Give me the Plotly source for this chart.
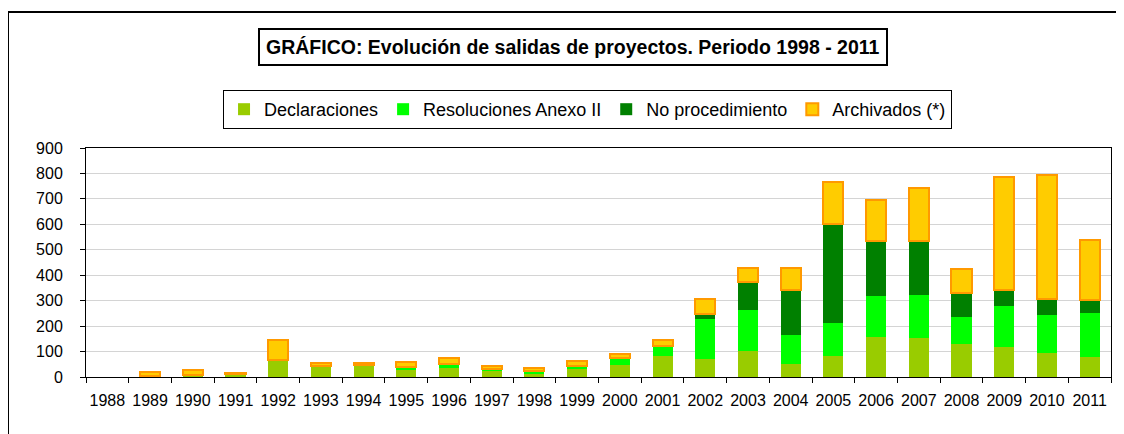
import plotly.graph_objects as go

years = [str(y) for y in range(1988, 2012)]
declaraciones = [0, 5, 9, 10, 68, 42, 47, 26, 34, 24, 13, 32, 49, 82, 70, 103, 53, 84, 159, 153, 130, 117, 93, 80]
resoluciones = [0, 0, 0, 0, 0, 0, 0, 12, 19, 8, 9, 13, 26, 38, 159, 160, 114, 127, 158, 168, 107, 163, 152, 171]
no_procedimiento = [0, 0, 0, 0, 0, 0, 0, 0, 0, 0, 0, 0, 0, 2, 20, 112, 174, 389, 219, 215, 92, 63, 63, 52]
archivados = [None, 15, 20, 7, 78, 13, 8, 22, 22, 12, 13, 17, 17, 24, 58, 53, 89, 165, 158, 205, 97, 445, 487, 235]
y_ticks = [0, 100, 200, 300, 400, 500, 600, 700, 800, 900]

FONT = "Liberation Sans, Arial, sans-serif"

fig = go.Figure()
fig.add_trace(go.Bar(x=years, y=declaraciones, name="Declaraciones",
                     marker=dict(color="#99CC00", line=dict(width=0))))
fig.add_trace(go.Bar(x=years, y=resoluciones, name="Resoluciones Anexo II",
                     marker=dict(color="#00FF00", line=dict(width=0))))
fig.add_trace(go.Bar(x=years, y=no_procedimiento, name="No procedimiento",
                     marker=dict(color="#008000", line=dict(width=0))))
fig.add_trace(go.Bar(x=years, y=archivados, name="Archivados (*)",
                     marker=dict(color="#FFCC00", line=dict(color="#FF9900", width=2))))

fig.update_layout(
    barmode="stack",
    bargap=0.53,
    width=1116, height=426,
    margin=dict(l=78, r=13, t=140, b=57, autoexpand=False),
    paper_bgcolor="white", plot_bgcolor="white",
    font=dict(family=FONT, color="black", size=16),
    legend=dict(orientation="h", x=0.4893, xanchor="center", y=1.2533, yanchor="top",
                bordercolor="black", borderwidth=1, bgcolor="white",
                font=dict(size=18, family=FONT, color="black"),
                traceorder="normal", itemwidth=30),
    xaxis=dict(type="category", showline=True, linecolor="black", linewidth=1, mirror=True,
               ticks="outside", ticklen=5, tickcolor="black", tickson="boundaries",
               tickangle=0, tickfont=dict(size=16), ticklabelstandoff=9, showgrid=False),
    yaxis=dict(range=[0, 900], tickvals=y_ticks, showline=True, linecolor="black", linewidth=1,
               mirror=True, ticks="outside", ticklen=5, tickcolor="black",
               showgrid=True, gridcolor="#d4d4d4", gridwidth=1,
               tickfont=dict(size=16), ticklabelstandoff=14, zeroline=False),
    shapes=[dict(type="rect", xref="paper", yref="paper",
                 x0=-0.0761, x1=1.2, y0=-0.6, y1=1.594,
                 line=dict(color="black", width=2), fillcolor="rgba(0,0,0,0)", layer="above")],
    annotations=[dict(text="<b>GRÁFICO: Evolución de salidas de proyectos. Periodo 1998 - 2011</b>",
                      xref="paper", yref="paper", x=0.4751, y=1.443,
                      xanchor="center", yanchor="middle", showarrow=False,
                      font=dict(size=19.5, family=FONT, color="black"),
                      bordercolor="black", borderwidth=2, borderpad=6, bgcolor="white")],
)

fig.write_html("out.html")
